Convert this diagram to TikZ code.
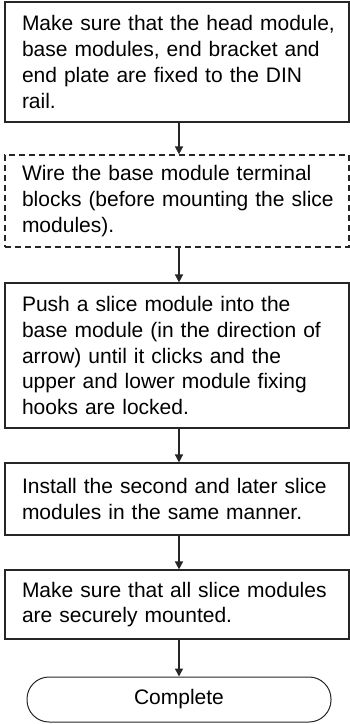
\documentclass[tikz,border=0pt]{standalone}
\usepackage{fontspec}
\setmainfont{Liberation Sans}
\usetikzlibrary{arrows.meta}

\newcommand{\stepfont}{\fontsize{21}{25.7}\selectfont
    \hyphenpenalty=10000\relax}

\begin{document}
\begin{tikzpicture}[
    x=1pt, y=-1pt,
    >={Triangle[length=8pt,width=8pt]},
    stepbox/.style={
        draw=black!85,
        line width=1.2pt,
        minimum width=344pt,
        text width=330pt,
        inner xsep=7pt,
        align=left,
        font=\stepfont,
        execute at begin node={\leftskip=10pt\relax}
    },
    endbox/.style={
        draw=black!85,
        line width=1pt,
        rounded corners=22pt,
        minimum width=304pt,
        minimum height=45pt,
        font=\fontsize{21}{25.7}\selectfont
    },
    arrow/.style={
        ->,
        line width=1.5pt,
        draw=black!85
    }
]

    \useasboundingbox (0,0) rectangle (350,724);

    \node[stepbox, minimum height=120pt] (s1) at (177,62)
        {Make sure that the head module,\\base modules, end bracket and\\end plate are fixed to the DIN\\rail.};
    \node[stepbox, dash pattern=on 6pt off 4pt, minimum height=92pt] (s2) at (177,201)
        {Wire the base module terminal\\blocks (before mounting the slice\\modules).};
    \node[stepbox, minimum height=145pt] (s3) at (177,355.5)
        {Push a slice module into the\\base module (in the direction of\\arrow) until it clicks and the\\upper and lower module fixing\\hooks are locked.};
    \node[stepbox, minimum height=72pt] (s4) at (177,499)
        {Install the second and later slice\\modules in the same manner.};
    \node[stepbox, minimum height=69pt] (s5) at (177,604.5)
        {Make sure that all slice modules\\are securely mounted.};
    \node[endbox] (done) at (179,699.5) {Complete};

    \foreach \a/\b in {s1/s2,s2/s3,s3/s4,s4/s5}{
        \draw[arrow] (\a.south -| done) -- (\b.north -| done);
    }
    \draw[arrow] (s5.south -| done) -- (done);

\end{tikzpicture}
\end{document}
